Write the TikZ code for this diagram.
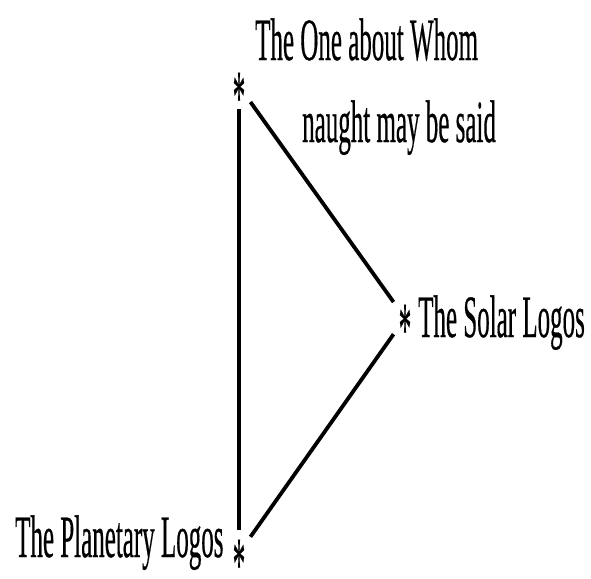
\documentclass[tikz,border=0pt]{standalone}
\usepackage{fontspec}
\setmainfont{Liberation Serif}
\newfontfamily\labelfont{Liberation Serif}[FakeBold=0.6]
\usepackage{graphicx}
\usetikzlibrary{positioning}
\newcommand{\tall}[1]{\scalebox{1}[2.4]{#1}}
\newcommand{\vtxmark}{\raisebox{-36pt}[11pt][11pt]{\scalebox{1}[3]{*}}}
\tikzset{
	vtx/.style={inner xsep=5pt,inner ysep=12pt,font=\labelfont\fontsize{25}{30}\selectfont},
	side/.style={draw=black,line width=3.8pt},
	lbl/.style={anchor=base west,inner sep=0pt,font=\labelfont\fontsize{25}{30}\selectfont},
}
\begin{document}
\begin{tikzpicture}[x=1pt,y=1pt]
	\useasboundingbox (0,0) rectangle (591,-578);
	\node[vtx] (one) at (239,-86) {\vtxmark};
	\node[vtx] (solar) at (405,-318) {\vtxmark};
	\node[vtx] (planet) at (239,-553) {\vtxmark};
	\node[lbl] (onea) at (255,-60) {\tall{The One about Whom}};
	\node[lbl] (oneb) at (302,-142) {\tall{naught may be said}};
	\node[lbl] (solarname) at (418,-337) {\tall{The Solar Logos}};
	\node[lbl] (planetname) at (15,-557) {\tall{The Planetary Logos}};
	\draw[side] (one)--(planet);
	\draw[side] (one)--(solar);
	\draw[side] (solar)--(planet);
\end{tikzpicture}
\end{document}
